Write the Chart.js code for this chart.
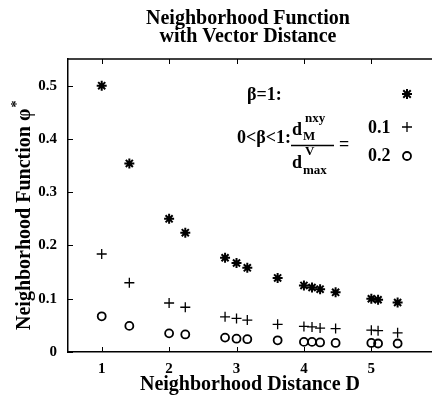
<!DOCTYPE html>
<html>
<head>
<meta charset="utf-8">
<script src="https://cdn.jsdelivr.net/npm/chart.js@4"></script>
<style>
  html, body { margin: 0; padding: 0; background: #fff; }
  #wrap { width: 432px; height: 400px; }
</style>
</head>
<body>
<div id="wrap"><canvas id="chart" width="432" height="400"></canvas></div>
<script>
// vector distances D
const distances = [1, 1.41, 2, 2.24, 2.83, 3, 3.16, 3.61, 4, 4.12, 4.24, 4.47, 5, 5.1, 5.39];
// beta = 1 (asterisks)
const phiBeta1 = [0.5, 0.354, 0.25, 0.224, 0.177, 0.167, 0.158, 0.139, 0.125, 0.121, 0.118, 0.112, 0.1, 0.098, 0.093];
// ratio 0.1 (plus)
const phiRatio01 = [0.184, 0.130, 0.092, 0.084, 0.066, 0.063, 0.060, 0.052, 0.048, 0.047, 0.045, 0.044, 0.041, 0.040, 0.036];
// ratio 0.2 (circles)
const phiRatio02 = [0.067, 0.049, 0.035, 0.033, 0.027, 0.025, 0.024, 0.022, 0.019, 0.019, 0.018, 0.017, 0.017, 0.016, 0.016];

const xTicks = [1, 2, 3, 4, 5];
const yTicks = [0, 0.1, 0.2, 0.3, 0.4, 0.5];

const SERIF = '"Liberation Serif", "Times New Roman", serif';

function toPoints(ys) {
    return distances.map((d, i) => ({ x: d, y: ys[i] }));
}

// title, y label, in-plot key, box top and inward ticks
const decorations = {
    id: 'decorations',
    afterDraw(chart) {
        const ctx = chart.ctx;
        const area = chart.chartArea;
        const xs = chart.scales.x;
        const ys = chart.scales.y;
        ctx.save();
        ctx.fillStyle = '#000';
        ctx.strokeStyle = '#000';

        // title
        ctx.font = 'bold 20px ' + SERIF;
        ctx.textAlign = 'center';
        ctx.textBaseline = 'alphabetic';
        ctx.fillText('Neighborhood Function', 248, 24);
        ctx.fillText('with Vector Distance', 248, 42);

        // top border
        ctx.lineWidth = 1.5;
        ctx.beginPath();
        ctx.moveTo(area.left, area.top);
        ctx.lineTo(area.right, area.top);
        ctx.stroke();

        // inward ticks
        ctx.lineWidth = 1;
        ctx.beginPath();
        xTicks.forEach(v => {
            const px = Math.round(xs.getPixelForValue(v)) + 0.5;
            ctx.moveTo(px, area.bottom);
            ctx.lineTo(px, area.bottom - 5);
            ctx.moveTo(px, area.top);
            ctx.lineTo(px, area.top + 5);
        });
        yTicks.forEach(v => {
            const py = Math.round(ys.getPixelForValue(v)) + 0.5;
            ctx.moveTo(area.left, py);
            ctx.lineTo(area.left + 5, py);
        });
        ctx.stroke();

        // y axis title
        ctx.save();
        ctx.translate(30, 330);
        ctx.rotate(-Math.PI / 2);
        ctx.textAlign = 'left';
        ctx.font = 'bold 20px ' + SERIF;
        const yLab = 'Neighborhood Function \u03c6';
        ctx.fillText(yLab, 0, 0);
        const w = ctx.measureText(yLab).width;
        ctx.font = 'bold 14px ' + SERIF;
        ctx.fillText('*', w + 1, -9);
        ctx.restore();

        // key text
        ctx.textAlign = 'left';
        ctx.font = 'bold 18px ' + SERIF;
        ctx.fillText('\u03b2=1:', 247, 100);
        ctx.textAlign = 'right';
        ctx.fillText('0<\u03b2<1:', 291, 143);
        ctx.textAlign = 'left';
        // fraction d_M^nxy / d_max^V
        ctx.fillText('d', 292, 135);
        ctx.fillText('d', 292, 168);
        ctx.font = 'bold 13px ' + SERIF;
        ctx.fillText('nxy', 305, 122);
        ctx.fillText('M', 303, 140);
        ctx.fillText('V', 305, 155);
        ctx.fillText('max', 303, 174);
        ctx.lineWidth = 1.5;
        ctx.beginPath();
        ctx.moveTo(291, 145.5);
        ctx.lineTo(334, 145.5);
        ctx.stroke();
        ctx.font = 'bold 18px ' + SERIF;
        ctx.fillText('=', 339, 150);
        ctx.fillText('0.1', 368, 133);
        ctx.fillText('0.2', 368, 161);

        // key markers
        ctx.lineWidth = 2;
        ctx.beginPath();
        const sx = 407, sy = 94, r = 5;
        ctx.moveTo(sx - r, sy); ctx.lineTo(sx + r, sy);
        ctx.moveTo(sx, sy - r); ctx.lineTo(sx, sy + r);
        const q = r * 0.75;
        ctx.moveTo(sx - q, sy - q); ctx.lineTo(sx + q, sy + q);
        ctx.moveTo(sx - q, sy + q); ctx.lineTo(sx + q, sy - q);
        ctx.stroke();
        ctx.lineWidth = 1.3;
        ctx.beginPath();
        ctx.moveTo(402, 127); ctx.lineTo(412, 127);
        ctx.moveTo(407, 122); ctx.lineTo(407, 132);
        ctx.stroke();
        ctx.lineWidth = 1.8;
        ctx.beginPath();
        ctx.arc(407, 156, 4, 0, Math.PI * 2);
        ctx.stroke();
        ctx.restore();
    }
};

new Chart(document.getElementById('chart'), {
    type: 'scatter',
    data: {
        datasets: [
            {
                label: 'beta = 1',
                data: toPoints(phiBeta1),
                pointStyle: 'star',
                pointRadius: 5,
                borderColor: '#000',
                backgroundColor: '#000',
                borderWidth: 2
            },
            {
                label: '0.1',
                data: toPoints(phiRatio01),
                pointStyle: 'cross',
                pointRadius: 5,
                borderColor: '#000',
                backgroundColor: '#000',
                borderWidth: 1.3
            },
            {
                label: '0.2',
                data: toPoints(phiRatio02),
                pointStyle: 'circle',
                pointRadius: 4,
                borderColor: '#000',
                backgroundColor: 'rgba(0,0,0,0)',
                borderWidth: 1.8
            }
        ]
    },
    options: {
        responsive: false,
        animation: false,
        events: [],
        layout: { autoPadding: false, padding: { top: 59, right: 0, left: 0, bottom: 0 } },
        plugins: {
            legend: { display: false },
            title: { display: false },
            tooltip: { enabled: false }
        },
        scales: {
            x: {
                type: 'linear',
                min: 0.5,
                max: 5.9,
                afterBuildTicks: scale => { scale.ticks = xTicks.map(v => ({ value: v })); },
                afterFit: scale => { scale.height = 48; },
                grid: { display: false, drawTicks: false },
                border: { display: true, color: '#000', width: 1.5 },
                ticks: {
                    color: '#000',
                    padding: 8,
                    maxRotation: 0,
                    font: { family: SERIF, size: 15, weight: 'bold' }
                },
                title: {
                    display: true,
                    text: 'Neighborhood Distance D',
                    color: '#000',
                    padding: { top: 0, bottom: 3 },
                    font: { family: SERIF, size: 20, weight: 'bold' }
                }
            },
            y: {
                type: 'linear',
                min: 0,
                max: 0.55,
                afterBuildTicks: scale => { scale.ticks = yTicks.map(v => ({ value: v })); },
                afterFit: scale => { scale.width = 68; },
                grid: { display: false, drawTicks: false },
                border: { display: true, color: '#000', width: 1.5 },
                ticks: {
                    color: '#000',
                    padding: 11,
                    font: { family: SERIF, size: 15, weight: 'bold' },
                    callback: v => v === 0 ? '0' : v.toFixed(1)
                }
            }
        }
    },
    plugins: [decorations]
});
</script>
</body>
</html>
